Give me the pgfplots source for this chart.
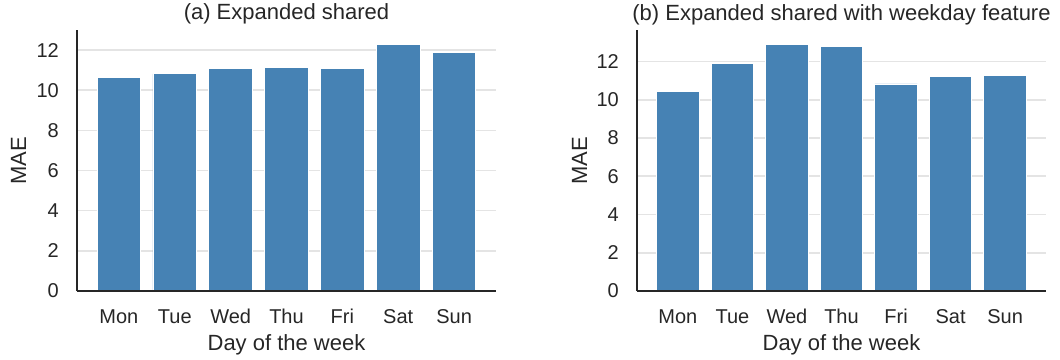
\documentclass[border=0pt]{standalone}
\usepackage{pgfplots}
\pgfplotsset{compat=1.18}
\usepackage{fontspec}
\setmainfont{Liberation Sans}
\definecolor{barblue}{RGB}{70,130,180}
\definecolor{txt}{RGB}{38,38,38}
\definecolor{gridc}{RGB}{228,228,228}
\pgfplotsset{
  myax/.style={
    scale only axis,
    height=261bp,
    ymin=0,
    xmin=-0.75, xmax=6.75,
    axis x line*=bottom,
    axis y line*=left,
    axis line style={txt, line width=2bp},
    major tick length=0pt,
    ymajorgrids,
    major grid style={gridc, line width=1.6bp},
    ytick={0,2,4,6,8,10,12},
    xtick={0,1,2,3,4,5,6},
    xticklabels={Mon,Tue,Wed,Thu,Fri,Sat,Sun},
    /pgf/number format/assume math mode=true,
    tick label style={font=\fontsize{20bp}{24bp}\selectfont, text=txt},
    yticklabel style={anchor=east, inner sep=0pt, xshift=-18bp},
    xticklabel style={anchor=base, inner sep=0pt, yshift=-32bp},
    label style={font=\fontsize{22bp}{26bp}\selectfont, text=txt},
    every axis title shift=0pt,
    title style={font=\fontsize{22bp}{26bp}\selectfont, text=txt, at={(axis description cs:0.5,1)}, anchor=base, yshift=10bp, inner sep=0pt},
    xlabel={Day of the week},
    ylabel={MAE},
    xlabel style={at={(axis description cs:0.5,0)}, anchor=base, yshift=-59bp, inner sep=0pt},
    ybar,
    bar width=0.78,
  }
}
\begin{document}
\begin{tikzpicture}
\path[use as bounding box] (0,0) rectangle (1060bp,360bp);
\begin{axis}[myax,
  at={(77bp,69bp)}, anchor=south west,
  width=419bp, ymax=13.0,
  title={(a) Expanded shared},
  ylabel style={at={(axis description cs:-0.1217,0.5)}, anchor=base, inner sep=0pt},
]
\addplot[fill=barblue, draw=white, line width=0.8bp] coordinates {(0,10.62) (1,10.82) (2,11.10) (3,11.14) (4,11.07) (5,12.28) (6,11.87)};
\draw[txt, line width=2bp] (rel axis cs:0,0) -- (rel axis cs:1,0);
\end{axis}
\begin{axis}[myax,
  at={(637bp,69bp)}, anchor=south west,
  width=409bp, ymax=13.65,
  title={(b) Expanded shared with weekday feature},
  ylabel style={at={(axis description cs:-0.1222,0.5)}, anchor=base, inner sep=0pt},
]
\addplot[fill=barblue, draw=white, line width=0.8bp] coordinates {(0,10.42) (1,11.88) (2,12.89) (3,12.80) (4,10.83) (5,11.20) (6,11.28)};
\draw[txt, line width=2bp] (rel axis cs:0,0) -- (rel axis cs:1,0);
\end{axis}
\end{tikzpicture}
\end{document}
